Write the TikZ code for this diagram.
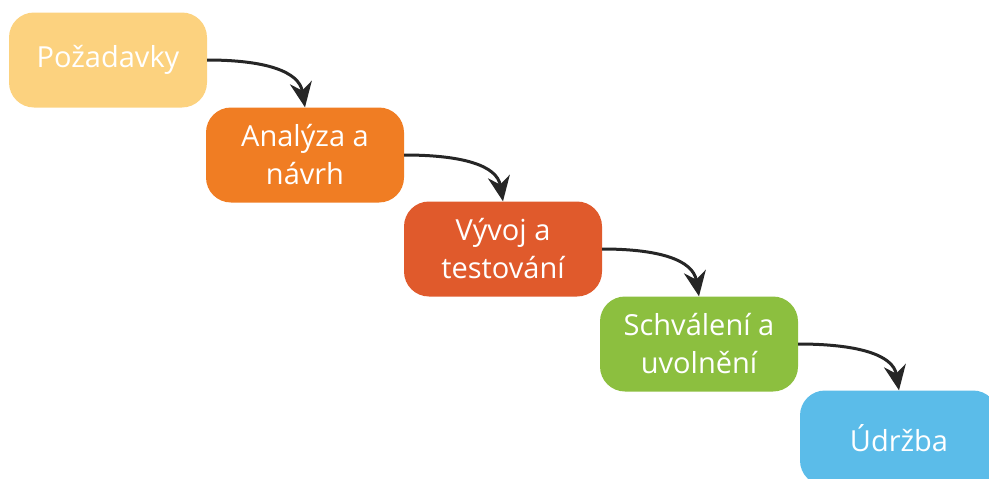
\documentclass[tikz,border=0pt]{standalone}
\usepackage{fontspec}
\setmainfont{Open Sans}
\usetikzlibrary{arrows.meta}
\definecolor{pozad}{HTML}{FCD27F}
\definecolor{analy}{HTML}{F07D23}
\definecolor{vyvoj}{HTML}{E05A2C}
\definecolor{schval}{HTML}{8CBF3F}
\definecolor{udrz}{HTML}{5BBCE9}
\begin{document}
\begin{tikzpicture}[x=1pt,y=1pt,
  box/.style={rounded corners=25pt, minimum width=198pt, minimum height=95pt,
    inner sep=0pt, text=white, align=center, font=\fontsize{29}{38}\selectfont},
  flow/.style={-{Stealth[length=25pt,width=22pt,inset=8pt]}, line width=3pt, draw=black!85}]

\clip (0,0) rectangle (989,-479);

\node[box, fill=pozad](poz) at (108,-60) {Požadavky};
\node[box, fill=analy](ana) at (305,-155) {Analýza a\\návrh};
\node[box, fill=vyvoj](vyv) at (503,-249) {Vývoj a\\testování};
\node[box, fill=schval](sch) at (699,-344) {Schválení a\\uvolnění};
\node[box, fill=udrz](udr) at (899,-438) {Údržba};

\draw[flow] (poz.east) .. controls +(58,0) and +(-6,36) .. (ana.north);
\draw[flow] (ana.east) .. controls +(58,0) and +(-6,36) .. (vyv.north);
\draw[flow] (vyv.east) .. controls +(58,0) and +(-6,36) .. (sch.north);
\draw[flow] (sch.east) .. controls +(58,0) and +(-6,36) .. (udr.north);

\end{tikzpicture}
\end{document}
